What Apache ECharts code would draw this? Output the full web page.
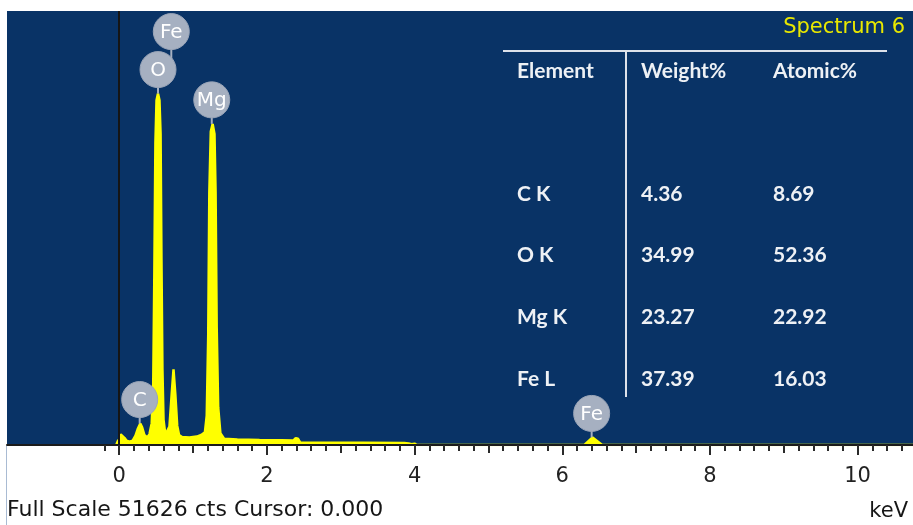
<!DOCTYPE html>
<html><head><meta charset="utf-8">
<script src="https://cdn.jsdelivr.net/npm/echarts@6/dist/echarts.min.js"></script>
<style>html,body{margin:0;padding:0;background:#fff}#chart{width:913px;height:525px}</style>
</head><body><div id="chart"></div>
<script>
// ---- data ----
const energy = [-0.04,-0.02,0.00,0.02,0.04,0.07,0.10,0.14,0.18,0.22,0.25,0.285,0.31,0.34,0.38,0.41,0.44,0.46,0.475,0.49,0.505,0.525,0.545,0.56,0.572,0.585,0.60,0.625,0.65,0.68,0.71,0.735,0.76,0.785,0.81,0.85,0.95,1.05,1.11,1.16,1.185,1.205,1.22,1.24,1.265,1.29,1.305,1.32,1.34,1.37,1.42,1.6,1.9,2.2,2.36,2.39,2.42,2.45,2.8,3.3,3.86,3.88,3.92,3.96,4.0,4.03,6.30,6.41,6.54,10.75];
const counts = [0,450,700,1250,1350,850,500,380,500,1100,1900,2550,2100,1200,900,1300,2600,7000,20000,36000,41000,41800,41000,37000,22000,9000,3000,1200,1000,2200,6000,9000,6000,2300,1200,950,900,1000,1200,1500,3500,13000,30000,37300,38200,37000,30000,14000,4500,1400,750,640,600,570,550,820,750,300,270,260,240,90,170,80,160,0,0,900,0,0];
const fullScale = 51626;
const cursorKeV = 0.000;
const majorTicks = [0,2,4,6,8,10];
const midTicks = [1,3,5,7,9];
const peakNames = ['C','O','Fe','Mg','Fe'];
const peakEnergy = [0.277,0.525,0.705,1.253,6.398];
const spectrumName = 'Spectrum 6';
const tableHeader = ['Element','Weight%','Atomic%'];
const tableElements = ['C K','O K','Mg K','Fe L'];
const tableWeight = [4.36,34.99,23.27,37.39];
const tableAtomic = [8.69,52.36,22.92,16.03];

// ---- chart ----
const minorTicks = [];
for (let i = -1; i <= 53; i++) { if (i % 5 !== 0) minorTicks.push(+(i * 0.2).toFixed(1)); }
const XMIN = -1.52, XMAX = 10.75;
const FONT = '"DejaVu Sans", sans-serif';
const TFONT = 'bold 21px Lato, "Open Sans", sans-serif';
const BUBBLE = '#a6b0c1';

function spectrumPeak(e) {
  let m = 0;
  for (let i = 0; i < energy.length; i++) if (Math.abs(energy[i] - e) <= 0.05) m = Math.max(m, counts[i]);
  return m;
}
const R = 18, STEM = 6, GAP = 2;
function layoutBubbles(api) {
  const items = peakEnergy.map((e, i) => { const p = api.coord([e, spectrumPeak(e)]); return { i: i, x: p[0], peakY: p[1] }; });
  const order = items.slice().sort((a, b) => a.peakY - b.peakY);
  const placed = [];
  order.forEach(it => {
    let cy = it.peakY - STEM - R, stemEnd = it.peakY;
    placed.forEach(o => {
      if (Math.abs(o.x - it.x) < R - 3 && o.cy < it.peakY) {
        const top = o.cy - 2 * R - GAP;
        if (top < cy) { cy = top; stemEnd = o.cy; }
      }
    });
    it.cy = cy; it.stemEnd = stemEnd;
    placed.push(it);
  });
  return items;
}

function tickAxis(values, len) {
  return {
    type: 'value', min: XMIN, max: XMAX, gridIndex: 0, position: 'bottom', z: 3,
    axisLine: { show: false, onZero: false },
    axisTick: { show: true, customValues: values, length: len, lineStyle: { color: '#2a2a2a', width: 2 } },
    axisLabel: { show: false }, splitLine: { show: false }
  };
}

const graphic = [
  { type: 'line', shape: { x1: 6.5, y1: 446, x2: 6.5, y2: 525 }, style: { stroke: '#a9bbd3', lineWidth: 1 } },
  { type: 'text', x: 7, y: 510, style: { text: 'Full Scale ' + fullScale + ' cts Cursor: ' + cursorKeV.toFixed(3), font: '22px ' + FONT, fill: '#161616', textAlign: 'left', textVerticalAlign: 'middle' } },
  { type: 'text', x: 908, y: 512, style: { text: 'keV', font: '21px ' + FONT, fill: '#161616', textAlign: 'right', textVerticalAlign: 'middle' } },
  { type: 'text', x: 905, y: 28, z: 10, style: { text: spectrumName, font: '21px ' + FONT, fill: '#e8e800', textAlign: 'right', textVerticalAlign: 'middle' } },
  { type: 'line', z: 10, shape: { x1: 503, y1: 51, x2: 887, y2: 51 }, style: { stroke: '#dde2ea', lineWidth: 2 } },
  { type: 'line', z: 10, shape: { x1: 626, y1: 51, x2: 626, y2: 397 }, style: { stroke: '#dde2ea', lineWidth: 2 } }
];
const colX = [517, 641, 773];
tableHeader.forEach((h, j) => graphic.push({ type: 'text', x: colX[j], y: 71, z: 10, style: { text: h, font: TFONT, fill: '#eef1f5', textAlign: 'left', textVerticalAlign: 'middle' } }));
tableElements.forEach((el, r) => {
  const y = 194 + r * 61.7;
  [el, tableWeight[r].toFixed(2), tableAtomic[r].toFixed(2)].forEach((t, j) =>
    graphic.push({ type: 'text', x: colX[j], y: y, z: 10, style: { text: t, font: TFONT, fill: '#eef1f5', textAlign: 'left', textVerticalAlign: 'middle' } }));
});

const chart = echarts.init(document.getElementById('chart'));
chart.setOption({
  animation: false,
  backgroundColor: '#ffffff',
  grid: { left: 7, right: 0, top: 11, bottom: 80, show: true, backgroundColor: '#093366', borderWidth: 0 },
  xAxis: [
    {
      type: 'value', min: XMIN, max: XMAX, gridIndex: 0, position: 'bottom', z: 3,
      axisLine: { show: true, onZero: false, lineStyle: { color: '#1b1b1b', width: 2 } },
      axisTick: { show: true, customValues: majorTicks, length: 10, lineStyle: { color: '#2a2a2a', width: 2 } },
      axisLabel: { show: true, customValues: majorTicks, margin: 21, color: '#222', fontSize: 21, fontFamily: FONT },
      splitLine: { show: false }
    },
    tickAxis(midTicks, 8),
    tickAxis(minorTicks, 6)
  ],
  yAxis: { type: 'value', min: 0, max: fullScale, show: false, splitLine: { show: false } },
  series: [
    {
      type: 'line', xAxisIndex: 0, data: energy.map((e, i) => [e, counts[i]]),
      symbol: 'none', smooth: false, z: 2,
      lineStyle: { color: '#ffff00', width: 2.5 },
      areaStyle: { color: '#ffff00', opacity: 1 },
      markLine: {
        silent: true, symbol: ['none', 'none'], label: { show: false },
        lineStyle: { color: '#151515', width: 2, type: 'solid' },
        data: [{ xAxis: cursorKeV }]
      }
    },
    {
      type: 'custom', xAxisIndex: 0, z: 5, clip: false,
      data: peakEnergy.map((e, i) => [e, i]),
      renderItem: function (params, api) {
        const L = layoutBubbles(api)[params.dataIndex];
        return {
          type: 'group', children: [
            { type: 'line', z2: 0, shape: { x1: L.x, y1: L.cy + R - 1, x2: L.x, y2: L.stemEnd }, style: { stroke: BUBBLE, lineWidth: 2 } },
            { type: 'circle', z2: 10, shape: { cx: L.x, cy: L.cy, r: R }, style: { fill: BUBBLE, stroke: '#9aa5b8', lineWidth: 1 } },
            { type: 'text', z2: 20, x: L.x, y: L.cy + 1, style: { text: peakNames[params.dataIndex], font: '20px ' + FONT, fill: '#ffffff', textAlign: 'center', textVerticalAlign: 'middle' } }
          ]
        };
      }
    }
  ],
  graphic: graphic
});
</script>
</body></html>
